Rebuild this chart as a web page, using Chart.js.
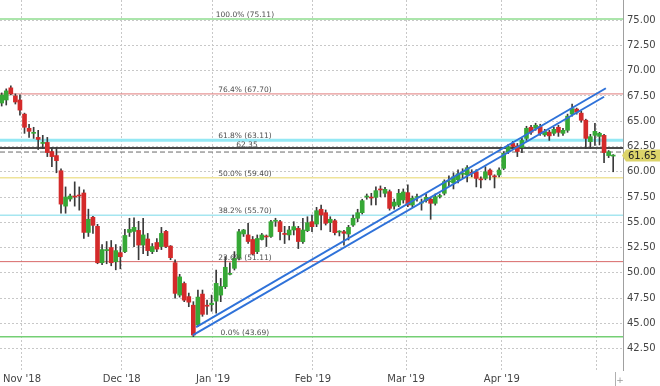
<!DOCTYPE html>
<html>
<head>
<meta charset="utf-8">
<title>Price chart with Fibonacci levels</title>
<script src="https://cdn.jsdelivr.net/npm/chart.js@4.4.1/dist/chart.umd.min.js"></script>
<style>
  html, body { margin: 0; padding: 0; background: #fff; }
  #wrap { width: 660px; height: 386px; }
</style>
</head>
<body>
<div id="wrap"><canvas id="priceChart" width="660" height="386"></canvas></div>
<script>
// Daily candles, late Oct 2018 .. early May 2019
const opens = [
  66.8, 67.1, 68.3, 67.5, 67.1, 65.7, 64.3, 63.8, 63.4, 62.8,
  62.9, 62.0, 61.6, 60.1, 56.6, 57.3, 57.6, 57.7, 57.9, 54.0,
  55.5, 54.6, 51.0, 52.2, 52.5, 51.1, 52.0, 52.1, 54.0, 54.1,
  54.2, 52.75, 53.35, 52.1, 53.0, 52.6, 54.1, 52.65, 51.0, 47.8,
  48.95, 47.65, 46.8, 44.84, 47.9, 46.8, 46.85, 47.2, 47.8, 48.63,
  49.85, 50.45, 51.44, 53.85, 53.75, 53.3, 52.1, 53.3, 53.6, 53.6,
  55.1, 55.06, 53.9, 53.75, 54.24, 54.4, 53.08, 54.17, 55.06, 54.83,
  56.29, 55.95, 54.96, 55.16, 54.03, 54.07, 53.84, 54.73, 55.4, 55.95,
  57.5, 57.47, 57.47, 58.3, 57.87, 58.03, 56.6, 56.71, 57.21, 57.93,
  56.71, 57.45, 56.9, 57.14, 57.28, 56.88, 57.55, 57.87, 59.0, 58.9,
  59.2, 59.75, 59.68, 59.9, 60.0, 59.3, 59.35, 60.17, 59.55, 59.68,
  60.34, 61.98, 62.8, 62.55, 62.4, 63.3, 64.4, 64.3, 64.47, 63.65,
  63.92, 63.8, 64.4, 63.8, 64.1, 65.7, 66.2, 65.8, 65.1, 62.98,
  63.6, 63.5, 63.6, 61.6, 61.55
];
const highs = [
  67.8, 68.2, 68.5, 67.7, 67.6, 65.8, 64.7, 64.4, 64.1, 63.6,
  63.4, 62.4, 62.4, 60.3, 58.5, 57.8, 59.0, 58.5, 58.2, 56.3,
  55.6, 54.8, 52.8, 53.1, 53.2, 52.8, 52.6, 54.3, 55.4, 55.45,
  55.1, 55.4, 53.9, 52.9, 53.4, 54.5, 54.2, 52.7, 51.3, 49.85,
  49.1, 48.0, 47.15, 48.3, 48.3, 47.3, 47.8, 50.28, 49.45, 51.6,
  51.0, 52.1, 54.3, 54.3, 54.9, 53.6, 53.75, 53.9, 53.75, 55.2,
  55.4, 55.2, 54.6, 54.6, 55.06, 54.6, 55.4, 55.55, 55.72, 56.48,
  56.71, 56.22, 55.55, 55.3, 54.17, 54.2, 54.7, 55.72, 56.29, 57.28,
  57.8, 57.87, 58.52, 58.6, 58.46, 58.2, 57.3, 58.26, 58.3, 58.7,
  57.6, 57.8, 57.3, 57.8, 57.47, 57.8, 57.8, 59.2, 59.6, 59.9,
  60.2, 60.3, 60.6, 60.2, 60.2, 59.5, 60.5, 60.3, 59.7, 60.4,
  62.0, 62.7, 63.0, 62.8, 63.3, 64.5, 64.6, 64.8, 64.7, 64.2,
  64.1, 64.4, 64.6, 64.3, 65.7, 66.7, 66.3, 66.0, 65.2, 63.7,
  64.8, 63.9, 63.7, 62.1, 61.7
];
const lows = [
  66.5, 66.6, 67.6, 66.7, 65.6, 63.8, 63.4, 63.3, 62.2, 62.3,
  61.5, 60.5, 59.9, 55.9, 55.9, 57.1, 56.6, 56.2, 53.4, 53.6,
  53.9, 50.9, 50.8, 50.9, 50.7, 50.3, 50.4, 52.0, 53.6, 52.6,
  51.3, 51.9, 51.7, 51.9, 52.1, 52.3, 52.5, 51.3, 47.5, 47.6,
  47.15, 46.65, 43.69, 44.7, 45.7, 45.9, 46.2, 46.0, 47.15, 48.45,
  49.8, 50.28, 51.27, 53.6, 52.9, 51.77, 51.9, 53.25, 52.6, 53.5,
  54.6, 53.25, 52.9, 53.25, 53.75, 52.4, 52.92, 54.07, 54.07, 54.57,
  54.24, 54.73, 54.07, 53.75, 53.65, 52.75, 53.25, 54.6, 55.06, 55.82,
  57.28, 56.71, 56.71, 57.53, 57.53, 56.2, 56.3, 56.55, 56.9, 56.55,
  56.5, 57.1, 56.2, 57.0, 55.3, 56.7, 57.4, 57.7, 58.6, 58.3,
  58.9, 59.4, 59.0, 59.5, 58.5, 58.4, 59.2, 59.2, 58.4, 59.5,
  60.2, 61.8, 62.2, 61.5, 61.9, 63.1, 63.7, 64.1, 63.6, 63.5,
  63.1, 63.6, 63.5, 63.6, 63.9, 65.5, 65.7, 64.9, 62.3, 62.3,
  62.6, 62.65, 60.9, 61.4, 60.0
];
const closes = [
  67.6, 68.0, 67.7, 66.9, 66.1, 64.4, 64.0, 63.9, 63.2, 62.9,
  61.9, 61.5, 61.1, 56.8, 57.5, 57.6, 57.5, 57.6, 54.0, 55.3,
  54.7, 51.0, 52.3, 52.3, 51.0, 52.2, 51.6, 53.7, 54.3, 54.5,
  52.75, 53.75, 52.2, 52.6, 52.35, 53.9, 52.6, 51.5, 47.97, 49.6,
  47.3, 47.1, 43.85, 47.6, 45.9, 46.7, 47.0, 48.96, 48.65, 50.55,
  49.95, 51.44, 54.07, 54.24, 53.1, 51.86, 53.4, 53.75, 53.55, 55.06,
  55.2, 54.07, 53.8, 54.24, 54.57, 53.1, 54.24, 54.96, 54.57, 56.15,
  55.72, 54.9, 55.3, 53.97, 54.1, 53.91, 54.5, 55.4, 55.95, 57.14,
  57.55, 57.4, 58.13, 58.2, 58.26, 56.38, 57.0, 57.87, 58.0, 56.71,
  57.38, 57.5, 57.0, 57.47, 56.88, 57.53, 57.62, 59.02, 59.1, 59.5,
  59.8, 59.8, 60.4, 59.85, 59.35, 59.2, 60.0, 59.68, 59.5, 60.17,
  61.82, 62.48, 62.5, 62.0, 63.1, 64.3, 63.9, 64.6, 63.78, 63.98,
  63.55, 64.2, 63.9, 64.1, 65.5, 66.25, 65.9, 65.1, 63.3, 63.47,
  64.0, 63.8, 61.9, 61.98, 61.65
];

// Fibonacci retracement of the Dec low -> 100% level
const fibPercents = ['100.0%', '76.4%', '61.8%', '50.0%', '38.2%', '23.6%', '0.0%'];
const fibLevels = [75.11, 67.70, 63.11, 59.40, 55.70, 51.11, 43.69];
const pivotLevel = 62.35;    // solid dark line
const prevClose = 61.95;     // dashed line
const lastPrice = 61.65;     // yellow box on the axis

// Rising channel, two parallel lines: [x index, price]
const channelUpper = [[42.6, 44.64], [132.4, 68.26]];
const channelLower = [[41.9, 43.85], [132.0, 67.42]];

// Axis ticks
const monthTicks = [4.45, 26.3, 46.3, 68.2, 88.6, 109.6, 130.4];
const monthLabels = ["Nov '18", "Dec '18", "Jan '19", "Feb '19", "Mar '19", "Apr '19", ''];
const yTicks = [42.5, 45, 47.5, 50, 52.5, 55, 57.5, 60, 62.5, 65, 67.5, 70, 72.5, 75];

// ---- layout / styling ----
const X_MIN = -0.37, X_MAX = 136.15;
const Y_MIN = 40.39, Y_MAX = 76.99;
const LABEL_X = 53.3;   // where the level captions are centred
const FONT = '"DejaVu Sans", Verdana, sans-serif';
const fibColors = ['#8fdc8f', '#e07b7b', '#94e8f4', '#efe49a', '#a6e6f0', '#d86868', '#74cf74'];
const fibWidths = [1.5, 1, 3, 1.5, 1.5, 1, 1.5];

const idx = opens.map((_, i) => i);

function hLine(level, color, width, dash, order) {
    return {
        type: 'line',
        data: [{ x: X_MIN, y: level }, { x: X_MAX, y: level }],
        borderColor: color,
        borderWidth: width,
        borderDash: dash || [],
        pointRadius: 0,
        order: order
    };
}

function channelLine(pts) {
    return {
        type: 'line',
        data: pts.map(p => ({ x: p[0], y: p[1] })),
        borderColor: '#2f72d9',
        borderWidth: 2,
        pointRadius: 0,
        order: -1
    };
}

const datasets = [];

// Fib levels behind everything
fibLevels.forEach((lvl, k) => datasets.push(hLine(lvl, fibColors[k], fibWidths[k], null, 10)));
datasets.push(hLine(pivotLevel, '#4a4a4a', 2, null, 9));
datasets.push(hLine(prevClose, '#6a6a6a', 1, [5, 3], 9));

// Candles: wick = floating bar low..high, body = floating bar open..close
datasets.push({
    type: 'bar',
    data: idx.map(i => ({ x: i, y: [lows[i], highs[i]] })),
    backgroundColor: '#3a3a3a',
    barThickness: 1,
    grouped: false,
    order: 2
});
datasets.push({
    type: 'bar',
    data: idx.map(i => ({ x: i, y: [opens[i], closes[i]] })),
    backgroundColor: idx.map(i => closes[i] >= opens[i] ? '#36a836' : '#d42a2a'),
    barThickness: 4,
    minBarLength: 1,
    grouped: false,
    order: 1
});

datasets.push(channelLine(channelUpper));
datasets.push(channelLine(channelLower));

// Captions for the levels and the last price marker
const annotations = {
    id: 'annotations',
    afterDatasetsDraw(chart) {
        const { ctx, scales: { x, y } } = chart;
        const cx = x.getPixelForValue(LABEL_X);
        ctx.save();
        ctx.font = '7.5px ' + FONT;
        ctx.fillStyle = '#4e4e4e';
        ctx.textAlign = 'center';
        ctx.textBaseline = 'alphabetic';
        fibLevels.forEach((lvl, k) => {
            ctx.fillText(fibPercents[k] + ' (' + lvl.toFixed(2) + ')', cx, y.getPixelForValue(lvl) - 2);
        });
        ctx.fillText(pivotLevel.toFixed(2), cx + 2, y.getPixelForValue(pivotLevel) - 1.5);

        // last price box on the right axis
        const py = Math.round(y.getPixelForValue(lastPrice)) + 0.5;
        const left = chart.chartArea.right - 1;
        ctx.beginPath();
        ctx.moveTo(left, py);
        ctx.lineTo(left + 4, py - 6);
        ctx.lineTo(660, py - 6);
        ctx.lineTo(660, py + 6);
        ctx.lineTo(left + 4, py + 6);
        ctx.closePath();
        ctx.fillStyle = '#dcd46a';
        ctx.fill();
        ctx.font = '10px ' + FONT;
        ctx.fillStyle = '#222';
        ctx.textAlign = 'left';
        ctx.textBaseline = 'middle';
        ctx.fillText(lastPrice.toFixed(2), left + 6, py + 0.5);

        // little scroll marker bottom right
        ctx.strokeStyle = '#b0b0b0';
        ctx.lineWidth = 1;
        ctx.beginPath();
        ctx.moveTo(615.5, 372);
        ctx.lineTo(615.5, 386);
        ctx.stroke();
        ctx.font = '9px ' + FONT;
        ctx.fillStyle = '#999';
        ctx.textAlign = 'center';
        ctx.fillText('+', 620, 381);
        ctx.restore();
    }
};

new Chart(document.getElementById('priceChart'), {
    type: 'bar',
    data: { datasets: datasets },
    plugins: [annotations],
    options: {
        responsive: false,
        animation: false,
        layout: { padding: 0 },
        plugins: {
            legend: { display: false },
            tooltip: { enabled: false }
        },
        scales: {
            x: {
                type: 'linear',
                min: X_MIN,
                max: X_MAX,
                offset: false,
                grid: { color: '#c8c8c8', drawTicks: false, offset: false },
                border: { display: false, dash: [2, 2] },
                ticks: {
                    padding: 3,
                    color: '#444',
                    font: { family: FONT, size: 10 },
                    maxRotation: 0,
                    autoSkip: false,
                    callback: (v, i) => monthLabels[i]
                },
                afterBuildTicks: s => { s.ticks = monthTicks.map(v => ({ value: v })); },
                afterFit: s => { s.height = 16; s.paddingLeft = 0; s.paddingRight = 0; }
            },
            y: {
                position: 'right',
                min: Y_MIN,
                max: Y_MAX,
                grid: { color: '#c8c8c8', drawTicks: false },
                border: { display: true, color: '#a0a0a0', dash: [2, 2] },
                ticks: {
                    padding: 4,
                    color: '#444',
                    font: { family: FONT, size: 10 },
                    callback: v => v.toFixed(2)
                },
                afterBuildTicks: s => { s.ticks = yTicks.map(v => ({ value: v })); },
                afterFit: s => { s.width = 37; s.paddingTop = 0; s.paddingBottom = 0; }
            }
        }
    }
});
</script>
</body>
</html>
